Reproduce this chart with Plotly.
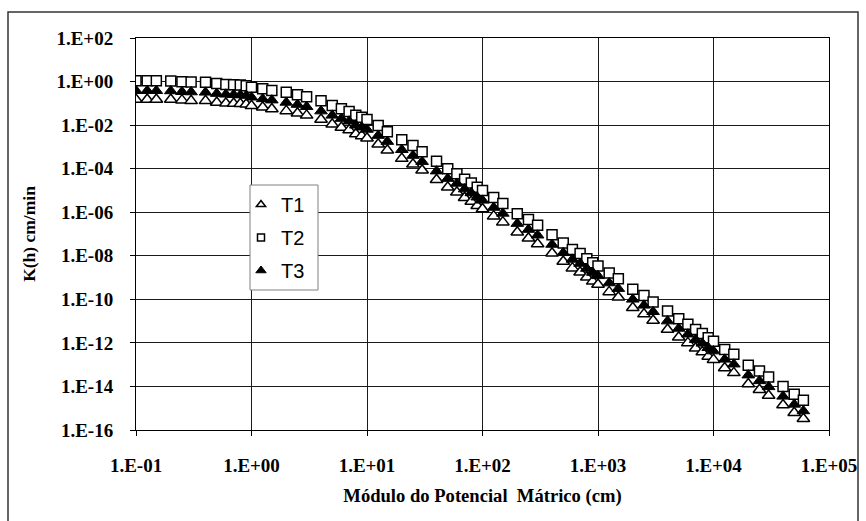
import plotly.graph_objects as go

# Matric potential (cm)
h_cm = [0.1, 0.125, 0.15, 0.2, 0.25, 0.3, 0.4, 0.5, 0.6, 0.7, 0.8, 0.9,
        1, 1.25, 1.5, 2, 2.5, 3, 4, 5, 6, 7, 8, 9,
        10, 12.5, 15, 20, 25, 30, 40, 50, 60, 70, 80, 90,
        100, 125, 150, 200, 250, 300, 400, 500, 600, 700, 800, 900,
        1000, 1250, 1500, 2000, 2500, 3000, 4000, 5000, 6000, 7000, 8000, 9000,
        10000, 12500, 15000, 20000, 25000, 30000, 40000, 50000, 60000]

K_T1 = [0.15, 0.15, 0.15, 0.15, 0.14, 0.13, 0.13, 0.11, 0.10, 0.098, 0.095, 0.09,
        0.077, 0.066, 0.055, 0.045, 0.035, 0.028, 0.018, 0.011, 7.8e-3, 5.9e-3, 3.9e-3, 3.2e-3,
        2.5e-3, 1.33e-3, 7.0e-4, 2.9e-4, 1.6e-4, 8.4e-5, 3.1e-5, 1.4e-5, 8.3e-6, 4.6e-6, 3.1e-6, 2.0e-6,
        1.4e-6, 6.6e-7, 3.5e-7, 1.2e-7, 6.4e-8, 3.5e-8, 1.3e-8, 5.5e-9, 2.7e-9, 1.76e-9, 1.04e-9, 6.7e-10,
        4.8e-10, 2.2e-10, 1.25e-10, 4.1e-11, 2.1e-11, 1.06e-11, 4.1e-12, 1.8e-12, 1.0e-12, 5.7e-13, 3.8e-13, 2.4e-13,
        1.7e-13, 7.0e-14, 4.2e-14, 1.3e-14, 7.1e-15, 3.85e-15, 1.4e-15, 6.2e-16, 3.3e-16]

K_T2 = [1.1, 1.1, 1.1, 1.07, 0.98, 0.95, 0.93, 0.81, 0.74, 0.71, 0.69, 0.65,
        0.55, 0.47, 0.39, 0.32, 0.25, 0.20, 0.13, 0.079, 0.056, 0.042, 0.028, 0.023,
        0.018, 9.5e-3, 5.0e-3, 2.1e-3, 1.15e-3, 6.0e-4, 2.2e-4, 1.0e-4, 5.9e-5, 3.3e-5, 2.2e-5, 1.4e-5,
        1.0e-5, 4.7e-6, 2.5e-6, 8.5e-7, 4.6e-7, 2.5e-7, 9.3e-8, 3.9e-8, 1.95e-8, 1.26e-8, 7.4e-9, 4.8e-9,
        3.4e-9, 1.6e-9, 8.9e-10, 2.9e-10, 1.5e-10, 7.6e-11, 2.9e-11, 1.3e-11, 7.1e-12, 4.1e-12, 2.7e-12, 1.7e-12,
        1.2e-12, 5.0e-13, 3.0e-13, 9.3e-14, 5.1e-14, 2.75e-14, 1.0e-14, 4.4e-15, 2.3e-15]

K_T3 = [0.38, 0.38, 0.38, 0.37, 0.34, 0.33, 0.32, 0.28, 0.26, 0.25, 0.24, 0.23,
        0.19, 0.16, 0.14, 0.11, 0.088, 0.07, 0.044, 0.028, 0.02, 0.015, 0.0098, 0.008,
        0.0063, 3.3e-3, 1.75e-3, 7.4e-4, 4.0e-4, 2.1e-4, 7.7e-5, 3.5e-5, 2.1e-5, 1.15e-5, 7.7e-6, 4.9e-6,
        3.5e-6, 1.65e-6, 8.8e-7, 3.0e-7, 1.6e-7, 8.8e-8, 3.3e-8, 1.37e-8, 6.8e-9, 4.4e-9, 2.6e-9, 1.7e-9,
        1.2e-9, 5.6e-10, 3.1e-10, 1.0e-10, 5.3e-11, 2.7e-11, 1.0e-11, 4.6e-12, 2.5e-12, 1.4e-12, 9.5e-13, 6.0e-13,
        4.2e-13, 1.75e-13, 1.05e-13, 3.3e-14, 1.8e-14, 9.6e-15, 3.5e-15, 1.5e-15, 7.5e-16]

series_names = ["T1", "T2", "T3"]
x_tickvals = [1e-1, 1e0, 1e1, 1e2, 1e3, 1e4, 1e5]
x_ticktext = ["1.E-01", "1.E+00", "1.E+01", "1.E+02", "1.E+03", "1.E+04", "1.E+05"]
y_tickvals = [1e2, 1e0, 1e-2, 1e-4, 1e-6, 1e-8, 1e-10, 1e-12, 1e-14, 1e-16]
y_ticktext = ["1.E+02", "1.E+00", "1.E-02", "1.E-04", "1.E-06", "1.E-08",
              "1.E-10", "1.E-12", "1.E-14", "1.E-16"]

styles = {
    "T1": dict(symbol="triangle-up", color="white", line=dict(color="black", width=1.5)),
    "T2": dict(symbol="square", color="white", line=dict(color="black", width=1.5)),
    "T3": dict(symbol="triangle-up", color="black", line=dict(color="black", width=1)),
}
data = {"T1": K_T1, "T2": K_T2, "T3": K_T3}
sizes = {"T1": 11, "T2": 10, "T3": 11}
legend_sizes = {"T1": 8, "T2": 7, "T3": 9}

fig = go.Figure()
for name in series_names:
    fig.add_trace(go.Scatter(x=h_cm, y=data[name], name=name, mode="markers",
                             showlegend=False, legendgroup=name,
                             marker=dict(size=sizes[name], **styles[name])))
# legend entries with the smaller legend glyphs
for name in series_names:
    fig.add_trace(go.Scatter(x=[None], y=[None], name=name, mode="markers",
                             showlegend=True, legendgroup=name,
                             marker=dict(size=legend_sizes[name], **styles[name])))

L, R, T, B = 136, 37, 38, 91
W, H = 866, 521
pw, ph = W - L - R, H - T - B

def px(xp):
    return (xp - L) / pw

def py(yp):
    return (H - B - yp) / ph

# outer chart frame
fig.add_shape(type="rect", xref="paper", yref="paper",
              x0=px(8), x1=px(858), y0=py(530), y1=py(12),
              line=dict(color="#333333", width=1.5), fillcolor="rgba(0,0,0,0)", layer="below")
# legend box
fig.add_shape(type="rect", xref="paper", yref="paper",
              x0=px(250), x1=px(318), y0=py(290), y1=py(185),
              line=dict(color="#808080", width=1), fillcolor="white", layer="above")

tickfont = dict(family="Liberation Serif", size=19, color="black")
fig.update_layout(
    width=W, height=H,
    margin=dict(l=L, r=R, t=T, b=B),
    paper_bgcolor="white", plot_bgcolor="white",
    showlegend=True,
    legend=dict(x=px(241), y=py(185), xanchor="left", yanchor="top",
                bgcolor="rgba(0,0,0,0)", borderwidth=0,
                font=dict(family="Liberation Sans", size=20, color="black"),
                itemsizing="trace", tracegroupgap=4, itemwidth=30),
    xaxis=dict(type="log", range=[-1, 5], tickvals=x_tickvals,
               ticktext=["<b>%s</b>" % t for t in x_ticktext],
               tickfont=tickfont, showgrid=True, gridcolor="#1a1a1a", gridwidth=1,
               showline=True, linecolor="black", linewidth=1, mirror=True,
               ticks="outside", ticklen=5, tickcolor="black", zeroline=False,
               ticklabelstandoff=13, automargin=False,
               title=dict(text="<b>Módulo do Potencial  Mátrico (cm)</b>",
                          font=dict(family="Liberation Serif", size=18.6, color="black"),
                          standoff=14)),
    yaxis=dict(type="log", range=[-16, 2], tickvals=y_tickvals,
               ticktext=["<b>%s</b>" % t for t in y_ticktext],
               tickfont=tickfont, showgrid=True, gridcolor="#1a1a1a", gridwidth=1,
               showline=True, linecolor="black", linewidth=1, mirror=True,
               ticks="outside", ticklen=5, tickcolor="black", zeroline=False,
               ticklabelstandoff=13, automargin=False,
               title=dict(text="<b>K(h) cm/min</b>",
                          font=dict(family="Liberation Serif", size=17.5, color="black"),
                          standoff=16)),
)

fig.write_html("out.html", post_script="document.body.style.margin='0';",
               config={"displayModeBar": False})
